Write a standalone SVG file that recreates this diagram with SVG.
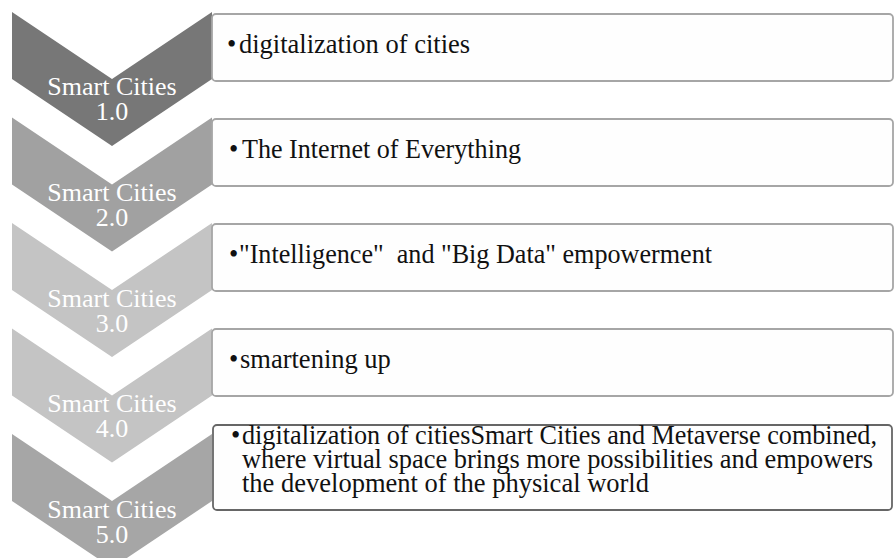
<svg xmlns="http://www.w3.org/2000/svg" width="894" height="558" viewBox="0 0 894 558">
<style>
.chev-text{font-family:"Liberation Serif","Times New Roman",serif;font-size:26px;fill:#ffffff;text-anchor:middle}
.box{fill:#fefefe;stroke:#a6a6a6;stroke-width:1.8}
.box5{fill:#fefefe;stroke:#666666;stroke-width:1.8}
.t{font-family:"Liberation Serif","Times New Roman",serif;font-size:26.5px;fill:#111111}
</style>
<defs>
<path id="chev" d="M0,0 L100,67 L200,0 L200,67 L100,134 L0,67 Z"/>
</defs>
<rect width="894" height="558" fill="#ffffff"/>
<g id="node1">
<use href="#chev" x="12" y="12" fill="#777777"/>
<text class="chev-text" x="112" y="95">Smart Cities</text>
<text class="chev-text" x="112" y="119.5">1.0</text>
<rect class="box" x="212" y="14" width="681" height="67" rx="4"/>
<text class="t" x="227" y="53">•</text>
<text class="t" x="239" y="53">digitalization of cities</text>
</g>
<g id="node2">
<use href="#chev" x="12" y="117.5" fill="#a1a1a1"/>
<text class="chev-text" x="112" y="201">Smart Cities</text>
<text class="chev-text" x="112" y="225.5">2.0</text>
<rect class="box" x="212" y="119" width="681" height="67" rx="4"/>
<text class="t" x="229" y="158">•</text>
<text class="t" x="242" y="158" textLength="279" lengthAdjust="spacingAndGlyphs">The Internet of Everything</text>
</g>
<g id="node3">
<use href="#chev" x="12" y="223" fill="#c4c4c4"/>
<text class="chev-text" x="112" y="307">Smart Cities</text>
<text class="chev-text" x="112" y="331.5">3.0</text>
<rect class="box" x="212" y="224" width="681" height="67" rx="4"/>
<text class="t" x="229" y="263">•</text>
<text class="t" x="239" y="263" xml:space="preserve" textLength="473" lengthAdjust="spacingAndGlyphs">"Intelligence"  and "Big Data" empowerment</text>
</g>
<g id="node4">
<use href="#chev" x="12" y="328.5" fill="#c4c4c4"/>
<text class="chev-text" x="112" y="412">Smart Cities</text>
<text class="chev-text" x="112" y="436.5">4.0</text>
<rect class="box" x="212" y="329" width="681" height="67" rx="4"/>
<text class="t" x="229" y="368">•</text>
<text class="t" x="240" y="368">smartening up</text>
</g>
<g id="node5">
<use href="#chev" x="12" y="434" fill="#a6a6a6"/>
<text class="chev-text" x="112" y="518">Smart Cities</text>
<text class="chev-text" x="112" y="542.5">5.0</text>
<rect class="box5" x="213" y="425" width="679" height="85" rx="4"/>
<text class="t" x="231" y="444">•</text>
<text class="t" x="242" y="444" textLength="635" lengthAdjust="spacingAndGlyphs">digitalization of citiesSmart Cities and Metaverse combined,</text>
<text class="t" x="242" y="468" textLength="631" lengthAdjust="spacingAndGlyphs">where virtual space brings more possibilities and empowers</text>
<text class="t" x="242" y="492">the development of the physical world</text>
</g>
<g id="connectors"></g>
</svg>
